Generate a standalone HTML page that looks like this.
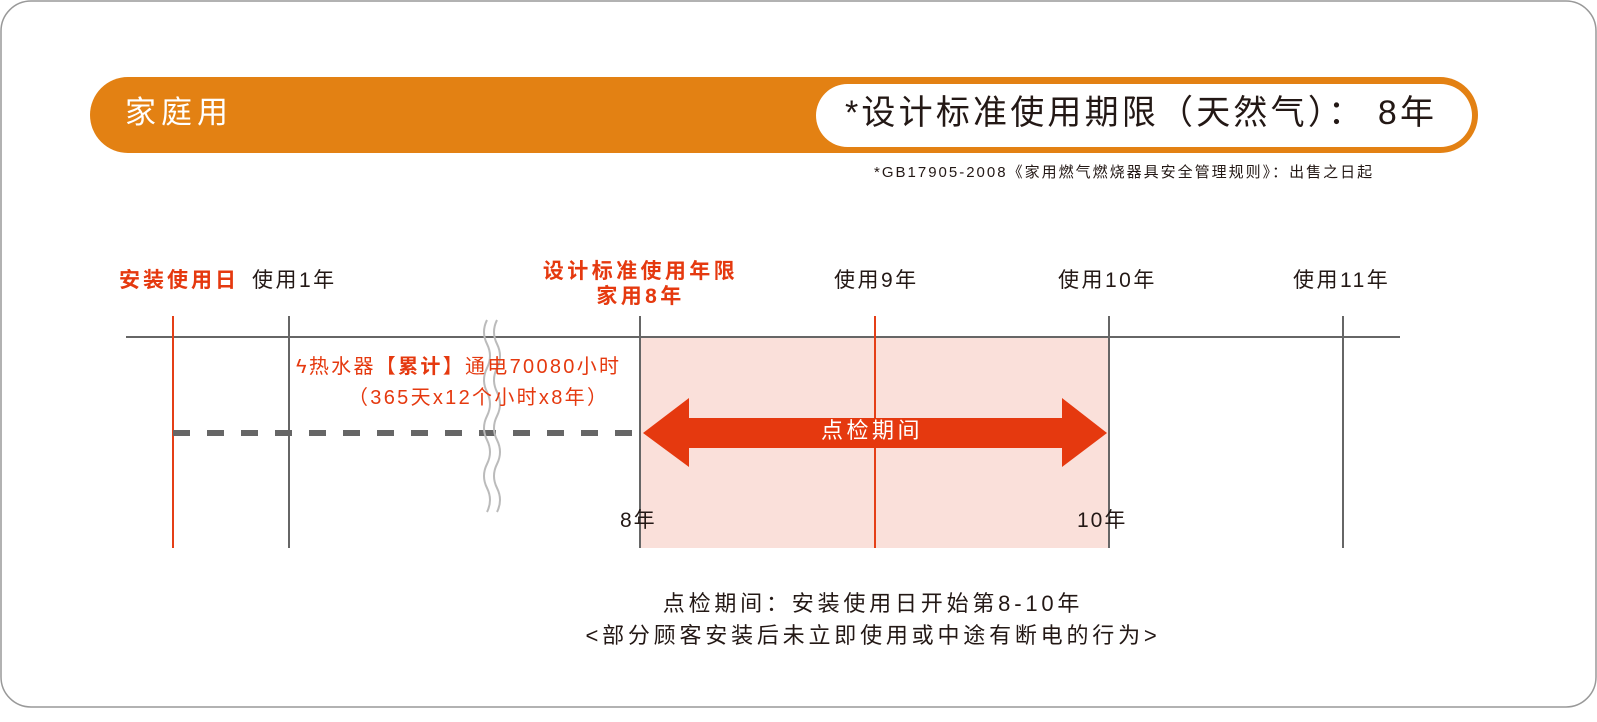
<!DOCTYPE html>
<html><head><meta charset="utf-8"><style>
body{margin:0;width:1597px;height:722px;background:#fff;font-family:"Liberation Sans","Noto Sans CJK SC",sans-serif;position:relative;overflow:hidden}
.t{position:absolute;white-space:nowrap;line-height:1}
</style></head><body>
<svg width="1597" height="722" style="position:absolute;left:0;top:0">
<rect x="1" y="1" width="1595" height="706" rx="30" fill="#fff" stroke="#999" stroke-width="1.5"/>
<rect x="90" y="77" width="1388" height="76" rx="38" fill="#e38113"/>
<rect x="816" y="84" width="656" height="63" rx="31.5" fill="#fff"/>
<rect x="640" y="337" width="469" height="211" fill="#fae0da"/>
<line x1="126" y1="337" x2="1400" y2="337" stroke="#666" stroke-width="2"/>
<line x1="173" y1="316" x2="173" y2="548" stroke="#e53f17" stroke-width="2"/>
<line x1="875" y1="316" x2="875" y2="548" stroke="#e53f17" stroke-width="2"/>
<g stroke="#666" stroke-width="2">
<line x1="289" y1="316" x2="289" y2="548"/><line x1="640" y1="316" x2="640" y2="548"/>
<line x1="1109" y1="316" x2="1109" y2="548"/><line x1="1343" y1="316" x2="1343" y2="548"/></g>
<line x1="173" y1="433" x2="640" y2="433" stroke="#666" stroke-width="6" stroke-dasharray="17 17"/>
<g fill="none" stroke="#bbb" stroke-width="2">
<path d="M487 320 q-6 12 0 24 q6 12 0 24 q-6 12 0 24 q6 12 0 24 q-6 12 0 24 q6 12 0 24 q-6 12 0 24 q6 12 0 24"/>
<path d="M497 320 q-6 12 0 24 q6 12 0 24 q-6 12 0 24 q6 12 0 24 q-6 12 0 24 q6 12 0 24 q-6 12 0 24 q6 12 0 24"/>
</g>
<polygon points="643,433 689,398 689,418 1062,418 1062,398 1107,433 1062,467 1062,448 689,448 689,467" fill="#e5390f"/>
</svg>
<div class="t" style="left:125px;top:97px;font-size:31px;letter-spacing:5px;color:#fff">家庭用</div>
<div class="t" style="left:845px;top:96px;font-size:34px;letter-spacing:3.2px;color:#231815">*设计标准使用期限（天然气）：&nbsp;8年</div>
<div class="t" style="left:874px;top:165px;font-size:15px;letter-spacing:2px;color:#231815">*GB17905-2008《家用燃气燃烧器具安全管理规则》：出售之日起</div>
<div class="t" style="left:119px;top:270px;font-size:21px;letter-spacing:3px;color:#e5390f;font-weight:bold">安装使用日</div>
<div class="t" style="left:252px;top:270px;font-size:21px;letter-spacing:2.5px;color:#231815">使用1年</div>
<div class="t" style="left:538px;top:259px;font-size:21px;letter-spacing:3.4px;color:#e5390f;font-weight:bold;width:205px;text-align:center;line-height:25px">设计标准使用年限<br>家用8年</div>
<div class="t" style="left:834px;top:270px;font-size:21px;letter-spacing:2.5px;color:#231815">使用9年</div>
<div class="t" style="left:1058px;top:270px;font-size:21px;letter-spacing:2.5px;color:#231815">使用10年</div>
<div class="t" style="left:1293px;top:270px;font-size:21px;letter-spacing:2.5px;color:#231815">使用11年</div>
<div class="t" style="left:296px;top:357px;font-size:20px;letter-spacing:2.3px;color:#e5390f">ϟ热水器【<b>累计</b>】通电70080小时</div>
<div class="t" style="left:348px;top:388px;font-size:20px;letter-spacing:2.3px;color:#e5390f">（365天x12个小时x8年）</div>
<div class="t" style="left:821px;top:420px;font-size:22px;letter-spacing:3.5px;color:#fff">点检期间</div>
<div class="t" style="left:620px;top:510px;font-size:21px;letter-spacing:2px;color:#231815">8年</div>
<div class="t" style="left:1077px;top:510px;font-size:21px;letter-spacing:2px;color:#231815">10年</div>
<div class="t" style="left:0;width:1746px;top:593px;font-size:22px;letter-spacing:3.8px;color:#231815;text-align:center">点检期间：安装使用日开始第8-10年</div>
<div class="t" style="left:0;width:1746px;top:625px;font-size:22px;letter-spacing:3.8px;color:#231815;text-align:center">&lt;部分顾客安装后未立即使用或中途有断电的行为&gt;</div>
</body></html>
